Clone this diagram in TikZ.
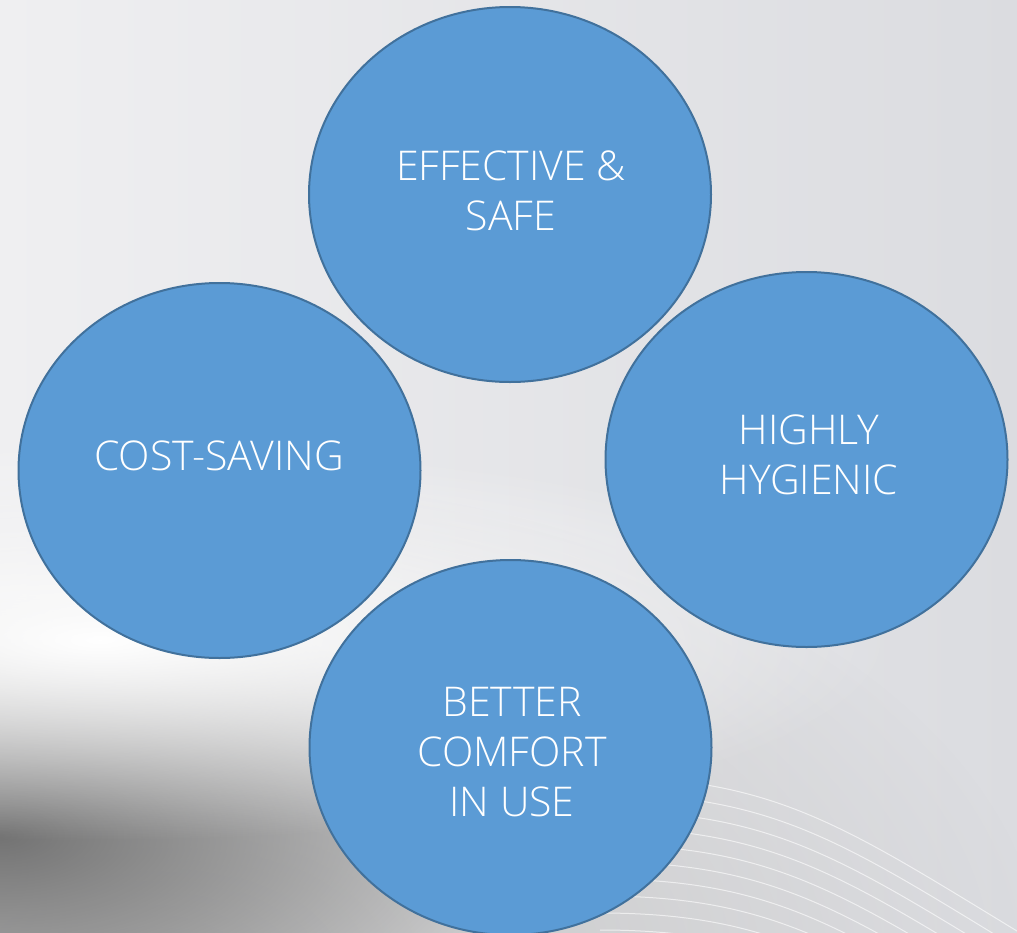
\documentclass[tikz,border=0pt]{standalone}
\usepackage{fontspec}
\setmainfont{Open Sans Light}
\usetikzlibrary{shapes.geometric,fadings}
\definecolor{bubblefill}{HTML}{5B9BD5}
\definecolor{bubbleline}{HTML}{41719C}
\definecolor{bgleft}{HTML}{EFEFF1}
\definecolor{bgright}{HTML}{DBDCE0}
\tikzfading[name=soft glow, inner color=transparent!0, outer color=transparent!100]

\begin{document}
\begin{tikzpicture}[x=1pt,y=-1pt,
        bubble/.style={ellipse, draw=bubbleline, line width=2pt, fill=bubblefill,
            minimum width=402pt, minimum height=375pt, inner sep=0pt},
        caption/.style={text=white, align=center, inner sep=0pt,
            font=\fontsize{41}{50}\selectfont}]

    \useasboundingbox (0,0) rectangle (1017,932);
    \clip (0,0) rectangle (1017,932);

    % background
    \fill[left color=bgleft, right color=bgright] (0,0) rectangle (1017,932);
    \fill[black!25, path fading=soft glow] (150,970) ellipse [x radius=900, y radius=500];
    \fill[black!55, path fading=soft glow] (0,835) ellipse [x radius=520, y radius=240];
    \fill[white, path fading=soft glow] (100,640) ellipse [x radius=800, y radius=200];
    \foreach \k in {0,...,9}
        \draw[white, opacity=.6, line width=1pt]
            (600,777+17*\k) .. controls (780,777+17*\k) and (850,830+17*\k) .. (1040,945+17*\k);

    \node[bubble] (safe) at (510,194.5) {};
    \node[bubble] (cost) at (219.5,470.5) {};
    \node[bubble] (hygiene) at (806.5,459.5) {};
    \node[bubble] (comfort) at (510.5,747.5) {};

    \node[caption] (safetext) at (511,191) {EFFECTIVE \&\\SAFE};
    \node[caption] (costtext) at (219,456) {COST-SAVING};
    \node[caption] (hygienetext) at (809,455) {HIGHLY\\HYGIENIC};
    \node[caption] (comforttext) at (512,752.5) {BETTER\\COMFORT\\IN USE};

\end{tikzpicture}
\end{document}
